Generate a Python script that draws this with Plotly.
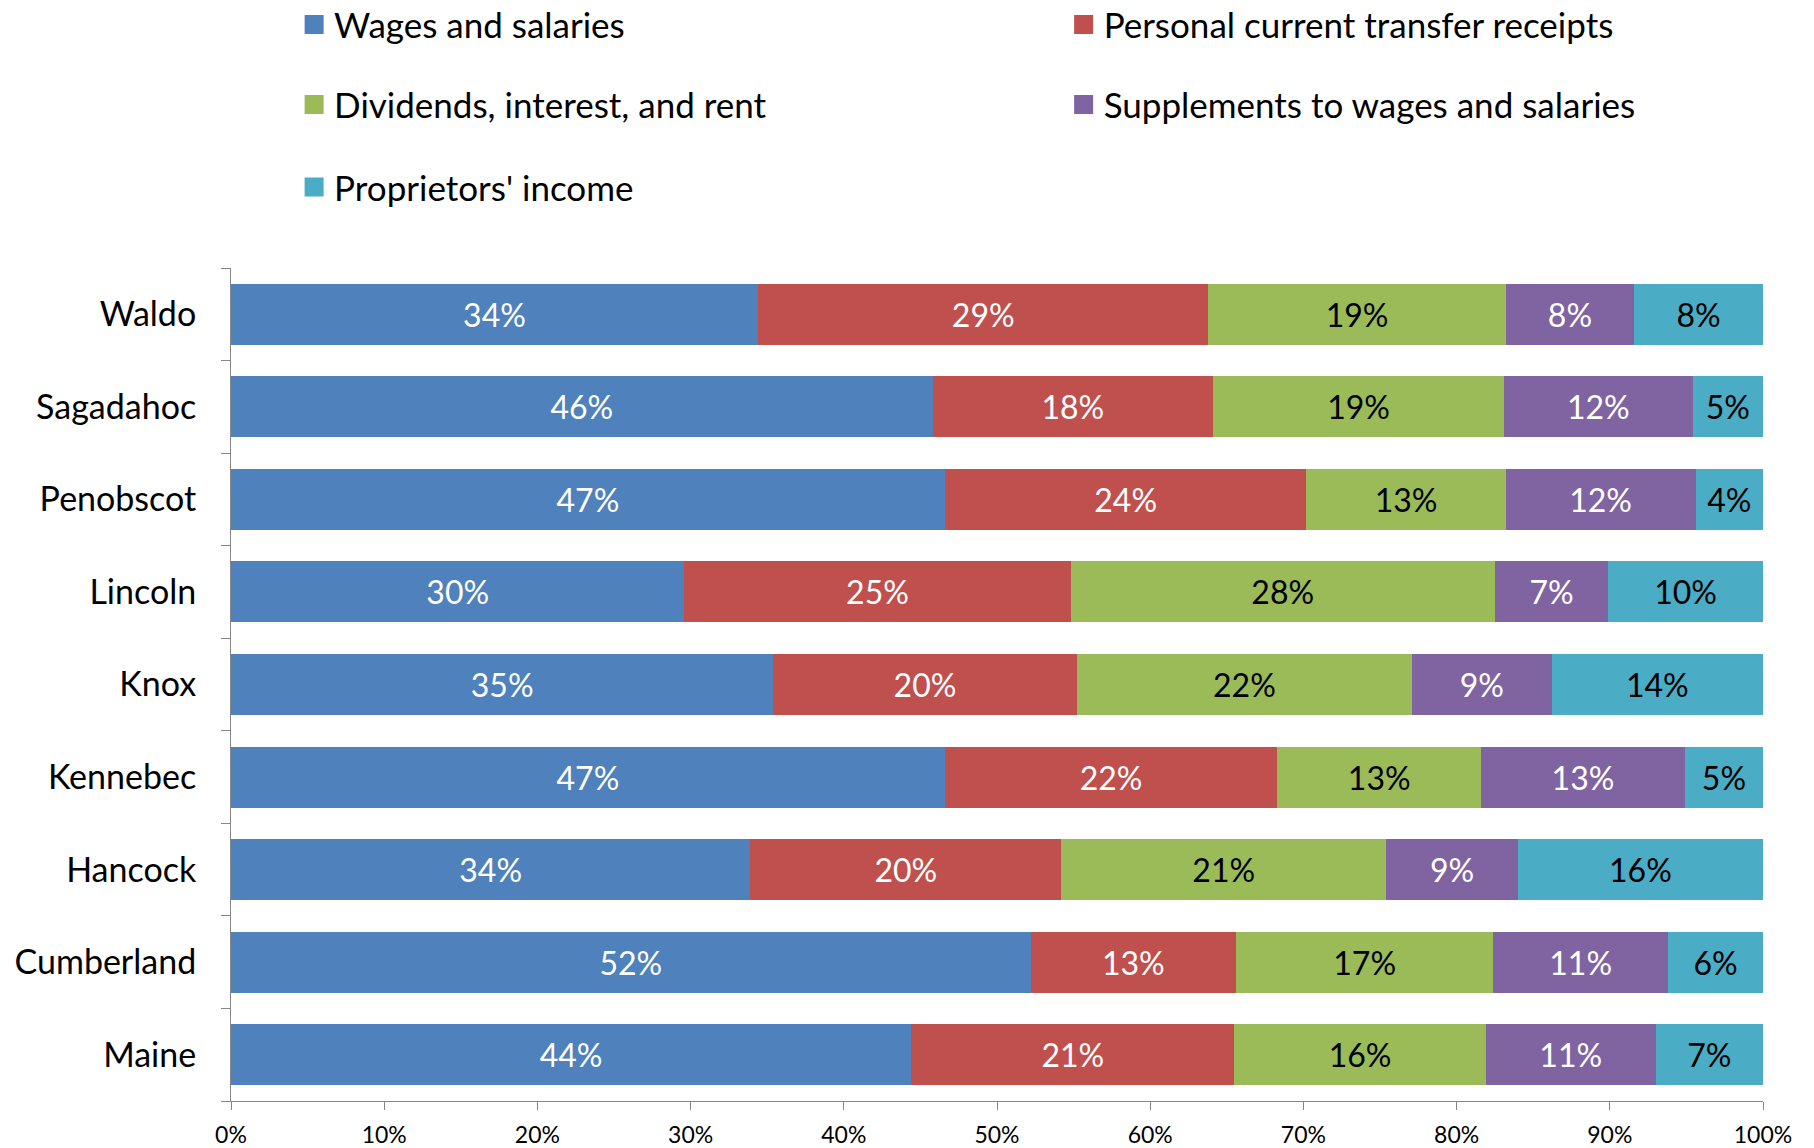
import plotly.graph_objects as go

# categories listed bottom-to-top (plotly draws the first one at the bottom)
regions = ["Maine", "Cumberland", "Hancock", "Kennebec", "Knox",
           "Lincoln", "Penobscot", "Sagadahoc", "Waldo"]

# share of personal income, in percent
wages = [44.4, 52.2, 33.9, 46.6, 35.4, 29.6, 46.6, 45.8, 34.4]
transfers = [21.1, 13.4, 20.3, 21.7, 19.8, 25.2, 23.6, 18.3, 29.4]
dividends = [16.4, 16.8, 21.2, 13.3, 21.9, 27.7, 13.0, 19.0, 19.4]
supplements = [11.1, 11.4, 8.6, 13.3, 9.1, 7.4, 12.4, 12.3, 8.4]
proprietors = [7.0, 6.2, 16.0, 5.1, 13.8, 10.1, 4.4, 4.6, 8.4]

x_ticks = list(range(0, 101, 10))
x_ticktext = [f"{v}%" for v in x_ticks]

series = [
    ("Wages and salaries", wages, "#4F81BD", "white"),
    ("Personal current transfer receipts", transfers, "#C0504D", "white"),
    ("Dividends, interest, and rent", dividends, "#9BBB59", "black"),
    ("Supplements to wages and salaries", supplements, "#8064A2", "white"),
    ("Proprietors' income", proprietors, "#4BACC6", "black"),
]

FONT = "Lato"
W, H = 1814, 1148
M = dict(l=223, r=59, t=260, b=55, autoexpand=False)

fig = go.Figure()

# one legend per entry so each can sit in the 2-column grid of the original
legend_pos = [(0.0412, 1.292), (0.5435, 1.292), (0.0412, 1.196), (0.5435, 1.196), (0.0412, 1.097)]

for i, (name, vals, color, txtcolor) in enumerate(series):
    leg = f"legend{i + 2}"
    fig.add_trace(go.Bar(
        y=regions, x=vals, name=name, orientation="h",
        marker_color=color, marker_line_width=0,
        texttemplate="%{x:.0f}%", textposition="inside",
        insidetextanchor="middle", textangle=0,
        insidetextfont=dict(family=FONT, size=32, color=txtcolor),
        showlegend=False,
    ))
    # legend-only entry with a bigger square swatch
    fig.add_trace(go.Scatter(
        x=[None], y=[None], mode="markers", name=name,
        marker=dict(symbol="square", size=16, color=color,
                    line=dict(width=3, color=color)),
        legend=leg, hoverinfo="skip",
    ))
    lx, ly = legend_pos[i]
    fig.update_layout({leg: dict(
        x=lx, y=ly, xanchor="left", yanchor="middle",
        orientation="h", bgcolor="rgba(0,0,0,0)", itemsizing="trace",
        font=dict(family=FONT, size=35, color="black"),
    )})

fig.update_layout(
    barmode="stack", bargap=0.34,
    width=W, height=H, margin=M,
    plot_bgcolor="white", paper_bgcolor="white",
    font=dict(family=FONT, color="black"),
    uniformtext=dict(minsize=32, mode="show"),
)

fig.update_xaxes(
    range=[0, 100], tickmode="array", tickvals=x_ticks, ticktext=x_ticktext,
    showgrid=False, zeroline=False, automargin=False,
    showline=True, linecolor="#868686", linewidth=1,
    ticks="outside", ticklen=8, tickcolor="#868686",
    ticklabelstandoff=5,
    tickfont=dict(family=FONT, size=23, color="black"),
)
fig.update_yaxes(
    type="category", range=[-0.5, 8.5], tickson="boundaries",
    showgrid=False, showline=True, linecolor="#868686", linewidth=1,
    automargin=False,
    ticks="outside", ticklen=9, tickcolor="#868686",
    ticklabelstandoff=27,
    tickfont=dict(family=FONT, size=34, color="black"),
)

fig.write_html("out.html")
